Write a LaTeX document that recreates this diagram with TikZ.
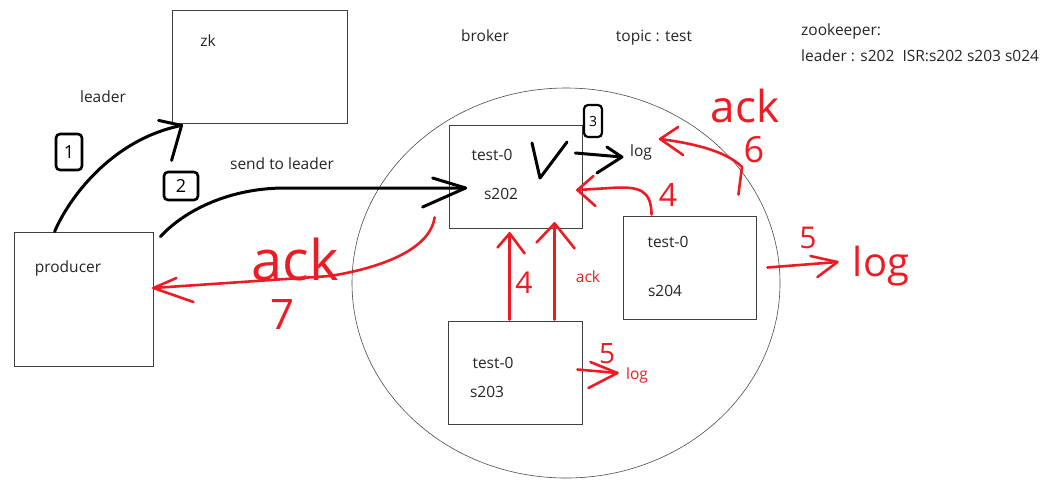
\documentclass[tikz,border=0pt]{standalone}
\usepackage{fontspec}
\setmainfont{Open Sans}
\usetikzlibrary{shapes.geometric,calc}
\definecolor{paintred}{RGB}{237,28,36}
\begin{document}
\begin{tikzpicture}[x=1pt,y=-1pt,
  box/.style={draw=black!75, line width=0.8pt, inner sep=0pt},
  lbl/.style={font=\fontsize{15.5}{17}\selectfont, text=black!85, inner sep=0pt},
  rlbl/.style={font=\fontsize{15.5}{17}\selectfont, text=paintred, inner sep=0pt},
  blk/.style={line width=3pt, line cap=round, line join=round, draw=black},
  rd/.style={line width=2.6pt, line cap=round, line join=round, draw=paintred},
  htext/.style={text=paintred, inner sep=0pt, font=\fontsize{#1}{#1}\selectfont},
  numbox/.style={draw=black, line width=2.6pt, rounded corners=4pt, inner sep=0pt, font=\fontsize{18}{18}\selectfont},
  ]
\useasboundingbox[fill=white] (0,0) rectangle (1056,491);

% broker circle
\node[draw=black!70, line width=0.6pt, ellipse, minimum width=428pt, minimum height=390pt, inner sep=0pt] (brokerc) at (566,283) {};

% boxes
\node[box, minimum width=175pt, minimum height=113pt] (zk) at (259.5,66.5) {};
\node[box, minimum width=139pt, minimum height=134pt] (producer) at (83.5,299) {};
\node[box, minimum width=133pt, minimum height=103pt] (s202) at (515.5,176.5) {};
\node[box, minimum width=133pt, minimum height=103pt] (s204) at (689.5,267.5) {};
\node[box, minimum width=134pt, minimum height=103pt] (s203) at (515,372.5) {};

% printed labels
\node[lbl] (zkt) at (208,41) {zk};
\node[lbl] (leadert) at (103,97) {leader};
\node[lbl] (sendt) at (282,164) {send to leader};
\node[lbl] (brokert) at (485,36) {broker};
\node[lbl] (topict) at (654,38) {topic : test};
\node[lbl, anchor=west] (zkk) at (801,31) {zookeeper:};
\node[lbl, anchor=west] (isr) at (801,56) {leader : s202\ \ ISR:s202 s203 s024};
\node[lbl] (producert) at (68,268) {producer};
\node[lbl] (t202a) at (492,155) {test-0};
\node[lbl] (t202b) at (501,194) {s202};
\node[lbl] (t204a) at (668,242) {test-0};
\node[lbl] (t204b) at (665,291) {s204};
\node[lbl] (t203a) at (493,363) {test-0};
\node[lbl] (t203b) at (487,392) {s203};
\node[lbl] (log1) at (641,152) {log};
\node[rlbl] (log3) at (637,375) {log};
\node[rlbl] (ack4) at (588,277) {ack};

% step 1: producer -> zk
\coordinate (t1) at ($(zk.south west)+(10,2)$);
\draw[blk] ($(producer.north west)+(41,0)$) .. controls (68,200) and (110,140) .. (t1);
\draw[blk] (t1) ++(-23,-5) -- (t1) -- ++(-10,35);
\node[numbox, minimum width=26pt, minimum height=36pt] (n1) at (69,152) {1};

% step 2: producer -> s202
\coordinate (t2) at ($(s202.west)+(17,11.5)$);
\draw[blk] ($(producer.north east)+(7,5)$) .. controls (185,210) and (230,188) .. (285,188) -- (t2);
\draw[blk] (t2) ++(-33,-10) -- (t2) -- ++(-43,19);
\node[numbox, minimum width=34pt, minimum height=28pt] (n2) at (181,186) {2};

% step 3: write log on leader
\draw[blk] (532,143) -- (540,178) -- (567,142);
\coordinate (t3) at ($(log1.west)+(-8,5)$);
\draw[blk] ($(s202.east)+(-7,-23.5)$) -- (t3);
\draw[blk] (t3) ++(-15,-10) -- (t3) -- ++(-25,16);
\node[numbox, line width=2.2pt, minimum width=18pt, minimum height=32pt, font=\fontsize{14}{14}\selectfont] (n3) at (593,121) {3};

% step 4: followers fetch
\coordinate (t4a) at ($(s202.south west)+(61,5)$);
\draw[rd] ($(s203.north west)+(62,-1)$) -- (t4a);
\draw[rd] (t4a) ++(-12,14) -- (t4a) -- ++(15,20);
\coordinate (t4b) at ($(s202.south west)+(106,-5)$);
\draw[rd] ($(s203.north west)+(107,-1)$) -- (t4b);
\draw[rd] (t4b) ++(-18,19) -- (t4b) -- ++(20,25);
\node[htext=30] (n4a) at (524,283) {4};
\coordinate (t4c) at ($(s202.east)+(-5,13.5)$);
\draw[rd] ($(s204.north west)+(29,-1)$) .. controls (651,190) and (640,186) .. (610,188) -- (t4c);
\draw[rd] (t4c) ++(16,-14) -- (t4c) -- ++(18,16);
\node[htext=32] (n4c) at (668,195) {4};

% step 5: followers write log
\coordinate (t5a) at ($(s204.east)+(81,-5.5)$);
\draw[rd] ($(s204.east)+(11,0)$) -- (t5a);
\draw[rd] (t5a) ++(-27,-6) -- (t5a) -- ++(-20,15);
\node[htext=30] (n5a) at (808,238) {5};
\node[htext=40] (log4) at (881,266) {log};
\coordinate (t5b) at ($(s203.east)+(35,0.5)$);
\draw[rd] ($(s203.east)+(-5,-3)$) -- (t5b);
\draw[rd] (t5b) ++(-27,-11) -- (t5b) -- ++(-29,15);
\node[htext=28] (n5b) at (607,354) {5};

% step 6: ack to leader
\coordinate (t6) at ($(log1.east)+(8,-13)$);
\draw[rd] ($(s204.north east)+(-18,-21)$) -- (742,167) .. controls (725,150) and (690,143) .. (t6);
\draw[rd] (t6) ++(18,-12) -- (t6) -- ++(23,16);
\node[htext=44] (ack6) at (745,106) {ack};
\node[htext=36] (n6) at (754,150) {6};

% step 7: ack to producer
\coordinate (t7) at ($(producer.east)+(0,-11)$);
\draw[rd] ($(s202.south west)+(-14,-11)$) .. controls (430,250) and (380,268) .. (330,276) -- (t7);
\draw[rd] (t7) ++(23,-10) -- (t7) -- ++(40,14);
\node[htext=56] (ack7) at (295,259) {ack};
\node[htext=42] (n7) at (283,314) {7};
\end{tikzpicture}
\end{document}
